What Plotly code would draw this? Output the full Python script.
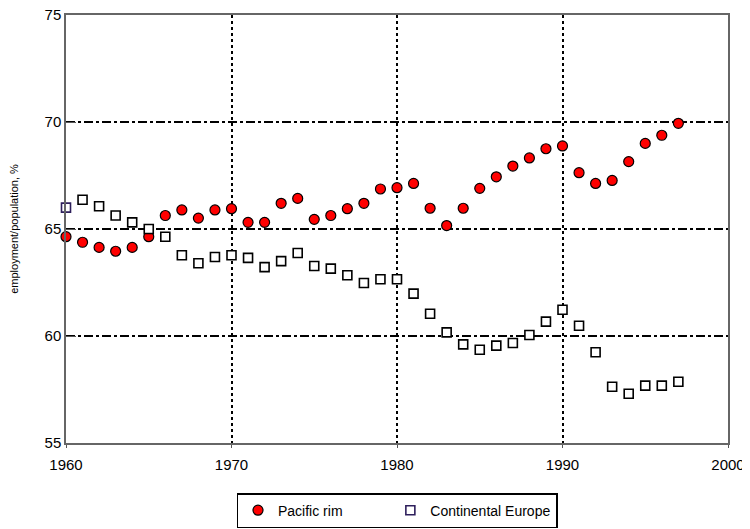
import plotly.graph_objects as go

# data
years = list(range(1960, 1998))

pacific_rim = [64.64, 64.38, 64.14, 63.96, 64.14, 64.64, 65.63, 65.89, 65.51, 65.89,
               65.95, 65.31, 65.31, 66.20, 66.43, 65.45, 65.63, 65.95, 66.20, 66.87,
               66.93, 67.13, 65.97, 65.16, 65.97, 66.90, 67.44, 67.94, 68.32, 68.75,
               68.88, 67.63, 67.13, 67.27, 68.15, 69.00, 69.38, 69.94]

continental_europe = [66.00, 66.37, 66.06, 65.63, 65.31, 65.00, 64.64, 63.77, 63.40, 63.69,
                      63.77, 63.65, 63.22, 63.50, 63.88, 63.27, 63.15, 62.84, 62.48, 62.65,
                      62.65, 61.98, 61.04, 60.17, 59.61, 59.36, 59.55, 59.67, 60.05, 60.67,
                      61.23, 60.48, 59.24, 57.63, 57.30, 57.68, 57.68, 57.86]

x_ticks = [1960, 1970, 1980, 1990, 2000]
y_ticks = [55, 60, 65, 70, 75]

font = "Liberation Sans, Arial, sans-serif"
pad = "\u00a0" * 11  # widen the first legend entry

fig = go.Figure()

fig.add_trace(go.Scatter(
    x=years, y=pacific_rim, name="Pacific rim" + pad, mode="markers",
    marker=dict(symbol="circle", size=10, color="#ff0000",
                line=dict(color="black", width=1.2)),
    cliponaxis=False,
))

# first square (and the legend swatch) has a dark purple outline
sq_line = ["#2e1f5c"] + ["black"] * (len(years) - 1)
fig.add_trace(go.Scatter(
    x=years, y=continental_europe, name="Continental Europe", mode="markers",
    marker=dict(symbol="square", size=9, color="white",
                line=dict(color=sq_line, width=1.6)),
    cliponaxis=False,
))

# page body adds ~8px offset, so margins are shifted to compensate
fig.update_layout(
    width=750, height=529,
    margin=dict(l=58, r=30, t=7, b=94),
    plot_bgcolor="white", paper_bgcolor="white",
    font=dict(family=font, size=15, color="black"),
    showlegend=True,
    legend=dict(orientation="h", x=0.5, xanchor="center", y=-0.117, yanchor="top",
                bordercolor="black", borderwidth=1.5, font=dict(size=14)),
)

fig.update_xaxes(
    range=[1960, 2000], tickvals=x_ticks, ticks="outside", ticklen=3, tickcolor="#555",
    showline=True, linecolor="#666", linewidth=1.5, mirror=True,
    showgrid=True, gridcolor="black", gridwidth=1.5, griddash="dot",
    zeroline=False, tickfont=dict(size=15), automargin=False, ticklabelstandoff=4,
    ticklabeloverflow="allow",
)
fig.update_yaxes(
    range=[55, 75], tickvals=y_ticks, ticks="inside", ticklen=10, tickcolor="#555",
    showline=True, linecolor="#666", linewidth=1.5, mirror=True,
    showgrid=True, gridcolor="black", gridwidth=1.5, griddash="dashdot",
    zeroline=False, tickfont=dict(size=15), automargin=False, ticklabeloverflow="allow",
    title=dict(text="employment/population, %", font=dict(size=11), standoff=28),
)

fig.write_html("out.html")
